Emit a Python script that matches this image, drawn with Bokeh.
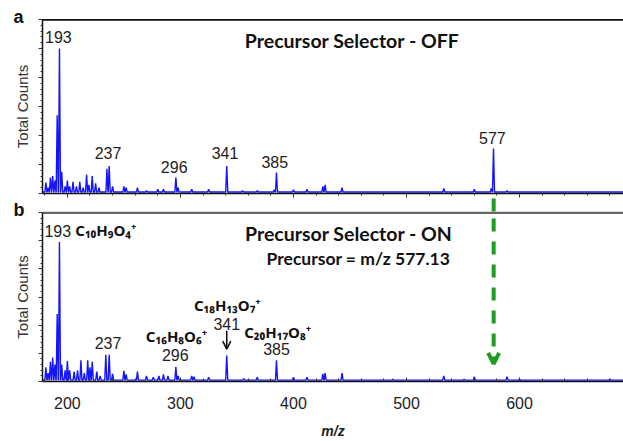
from bokeh.plotting import figure
from bokeh.layouts import column
from bokeh.models import (Range1d, LinearAxis, Label, Arrow, OpenHead, Title, Span,
                          SingleIntervalTicker, FixedTicker, ColumnDataSource,
                          CustomJSTickFormatter)
from bokeh.embed import file_html
from bokeh.resources import INLINE
from bokeh.core.properties import value

# ---------------- data ----------------
X_MIN, X_MAX = 178, 692
Y_TOP = 120

off_mz = [181, 183, 185, 187, 189, 191, 193, 195, 198, 200, 202, 205, 208, 211, 214,
          217, 219, 222, 225, 228, 235, 237, 240, 250, 252, 262, 270, 280, 285, 296,
          298, 310, 325, 341, 355, 368, 383, 385, 400, 412, 426, 428, 443, 533, 560,
          575, 577, 589, 600, 680]
off_int = [7.6, 4, 11, 12, 9, 54, 100, 15, 5, 9, 5, 8, 5, 8, 4,
           13, 6, 12, 7, 4, 17, 19, 5, 5, 4, 4, 2, 3, 3, 11,
           4, 3, 3, 19, 2, 2, 2.5, 14.5, 2.5, 3, 5, 6, 4, 3.5, 3,
           3.5, 31, 2, 1, 1]

on_mz = [181, 183, 185, 187, 189, 191, 193, 195, 198, 200, 202, 206, 209, 212, 215,
         218, 220, 222, 226, 229, 234, 237, 240, 250, 252, 262, 270, 276, 281, 285,
         289, 296, 298, 310, 312, 325, 341, 356, 368, 385, 400, 412, 426, 428, 443,
         488, 533, 551, 560, 589, 600, 680]
on_int = [10, 6, 14, 17, 12, 48, 99, 12, 8, 14.5, 8, 7, 8, 15, 6,
          15, 10, 14, 7, 4, 19, 19, 5.5, 7.5, 5, 7, 4, 3, 4, 5,
          4, 10.5, 4, 4, 3.5, 3, 18.5, 2, 3, 15, 3, 3, 5.5, 6, 6,
          1.5, 4, 1.5, 3.5, 3.5, 1.5, 1.5]

off_labels = ["193", "237", "296", "341", "385", "577"]
off_label_mz = [192, 236, 294.5, 339.5, 383.5, 576]

on_labels = ["193", "237", "296", "341", "385"]
on_label_mz = [191.5, 236, 295.5, 341, 385]

formulas = ["C₁₀H₉O₄⁺", "C₁₆H₈O₆⁺", "C₁₈H₁₃O₇⁺", "C₂₀H₁₇O₈⁺"]
formula_mz = [207, 296.5, 341.5, 386]

precursor_mz = 577.13

BLUE = "#1414ff"
GREEN = "#1e9e1e"
NUM_FONT = "Liberation Sans"
TITLE_FONT = "Lato"
FORM_FONT = "Noto Sans"


def profile(mz, inten, hw=0.9, base=1.0):
    xs, ys = [X_MIN], [base]
    for m, h in sorted(zip(mz, inten)):
        xs += [m - hw, m, m + hw]
        ys += [base, h, base]
    xs.append(X_MAX)
    ys.append(base)
    return xs, ys


def make_panel(height, top, bottom, show_x_labels, letter, top_color, top_width,
               margin=None):
    kw = {} if margin is None else {"margin": margin}
    p = figure(width=623, height=height, output_backend="svg", toolbar_location=None,
               title=None, x_range=Range1d(X_MIN, X_MAX), y_range=Range1d(0, Y_TOP),
               min_border_left=42, min_border_right=0,
               min_border_top=top, min_border_bottom=bottom, **kw)
    p.outline_line_color = None
    p.grid.grid_line_color = None
    p.background_fill_color = "white"
    p.border_fill_color = None

    xa = p.below[0]
    xa.ticker = SingleIntervalTicker(interval=100, num_minor_ticks=5)
    xa.axis_line_color = "#111111"
    xa.axis_line_width = 1.5
    xa.major_tick_line_color = "#333333"
    xa.minor_tick_line_color = "#333333"
    if show_x_labels:
        xa.major_tick_in = 4
        xa.major_tick_out = 0
        xa.minor_tick_in = 3
        xa.minor_tick_out = 0
        xa.major_label_text_font = NUM_FONT
        xa.major_label_text_font_size = "16px"
        xa.major_label_text_color = "#222222"
        xa.major_label_standoff = 15
        xa.axis_label = "m/z"
        xa.axis_label_text_font = "Liberation Sans"
        xa.axis_label_text_font_style = "bold italic"
        xa.axis_label_text_font_size = "14px"
        xa.axis_label_text_color = "#222222"
        xa.axis_label_standoff = 11
    else:
        xa.major_tick_in = 0
        xa.major_tick_out = 4
        xa.minor_tick_in = 0
        xa.minor_tick_out = 2
        xa.formatter = CustomJSTickFormatter(code="return ''")
        xa.major_label_standoff = 0

    ya = p.left[0]
    ya.ticker = SingleIntervalTicker(interval=20, num_minor_ticks=5)
    ya.axis_line_color = "#111111"
    ya.axis_line_width = 1.5
    ya.major_tick_in = 0
    ya.major_tick_out = 4
    ya.minor_tick_in = 0
    ya.minor_tick_out = 2
    ya.major_tick_line_color = "#333333"
    ya.minor_tick_line_color = "#333333"
    ya.formatter = CustomJSTickFormatter(code="return ''")
    ya.major_label_standoff = 0
    ya.axis_label = "Total Counts"
    ya.axis_label_text_font = NUM_FONT
    ya.axis_label_text_font_style = "normal"
    ya.axis_label_text_font_size = "15px"
    ya.axis_label_text_color = "#333333"
    ya.axis_label_standoff = 8

    # frame top border (no ticks), then the panel letter above it
    topax = LinearAxis(ticker=FixedTicker(ticks=[]), axis_line_color=top_color,
                       axis_line_width=top_width,
                       formatter=CustomJSTickFormatter(code="return ''"),
                       major_label_standoff=0)
    p.add_layout(topax, "above")
    p.add_layout(Span(location=Y_TOP, dimension="width", line_color=top_color,
                      line_width=2 * top_width))
    p.add_layout(Title(text=letter, align="left", offset=-29, standoff=-14,
                       text_font="Liberation Sans", text_font_style="bold",
                       text_font_size="18px", text_color="#111111"), "above")
    return p


# ---------------- top panel ----------------
p1 = make_panel(200, 19, 7, False, "a", "#111111", 1.2)
xs, ys = profile(off_mz, off_int)
p1.line(xs, ys, line_color=BLUE, line_width=1.4)

off_label_y = [107.6, 27.6, 18.6, 27.6, 22, 38.6]
src1 = ColumnDataSource(dict(x=off_label_mz, y=off_label_y, t=off_labels))
p1.text(x="x", y="y", text="t", source=src1, text_font=value(NUM_FONT),
        text_font_size="16px", text_align="center", text_baseline="middle",
        text_color="#222222")

p1.add_layout(Label(x=452, y=105.5, text="Precursor Selector - OFF",
                    text_font=TITLE_FONT, text_font_style="bold",
                    text_font_size="19.5px", text_align="center",
                    text_baseline="middle", text_color="#111111"))

# ---------------- gap strip (start of the green arrow) ----------------
gap = figure(width=623, height=16, output_backend="svg", toolbar_location=None,
             title=None, x_axis_type=None, y_axis_type=None,
             x_range=Range1d(X_MIN, X_MAX), y_range=Range1d(0, 16),
             min_border=0, min_border_left=42, margin=(-4, 0, 0, 0))
gap.outline_line_color = None
gap.grid.grid_line_color = None
gap.background_fill_color = None
gap.border_fill_color = None
gap.segment(x0=[precursor_mz], y0=[14], x1=[precursor_mz], y1=[1],
            line_color=GREEN, line_width=4)

# ---------------- bottom panel ----------------
p2 = make_panel(259, 30, 57, True, "b", "#666666", 1.6, margin=(-30, 0, 0, 0))
xs, ys = profile(on_mz, on_int)
p2.line(xs, ys, line_color=BLUE, line_width=1.4)

on_label_y = [107, 27, 18.6, 40.7, 23.4]
src2 = ColumnDataSource(dict(x=on_label_mz, y=on_label_y, t=on_labels))
p2.text(x="x", y="y", text="t", source=src2, text_font=value(NUM_FONT),
        text_font_size="16px", text_align="center", text_baseline="middle",
        text_color="#222222")

formula_y = [107.5, 32.5, 54.5, 35.5]
formula_align = ["left", "center", "center", "center"]
src3 = ColumnDataSource(dict(x=formula_mz, y=formula_y, t=formulas, a=formula_align))
p2.text(x="x", y="y", text="t", source=src3, text_font=value(FORM_FONT),
        text_font_style="bold", text_font_size="15px", text_align="a",
        text_baseline="middle", text_color="#111111")

p2.add_layout(Label(x=449, y=104.8, text="Precursor Selector - ON",
                    text_font=TITLE_FONT, text_font_style="bold",
                    text_font_size="19.5px", text_align="center",
                    text_baseline="middle", text_color="#111111"))
p2.add_layout(Label(x=457.5, y=87.6, text=f"Precursor = m/z {precursor_mz:.2f}",
                    text_font=TITLE_FONT, text_font_style="bold",
                    text_font_size="17.5px", text_align="center",
                    text_baseline="middle", text_color="#111111"))

# arrow to the 341 peak
p2.add_layout(Arrow(end=OpenHead(size=8, line_width=1.6, line_color="#111111"),
                    x_start=341, y_start=36, x_end=341, y_end=23,
                    line_color="#111111", line_width=1.6))

# green dashed precursor arrow
p2.add_layout(Arrow(end=OpenHead(size=11, line_width=4, line_color=GREEN),
                    x_start=precursor_mz, y_start=115.8, x_end=precursor_mz, y_end=12.5,
                    line_color=GREEN, line_width=4, line_dash="13 10"))

layout = column(p1, gap, p2, spacing=0)
open("out.html", "w").write(file_html(layout, INLINE))
